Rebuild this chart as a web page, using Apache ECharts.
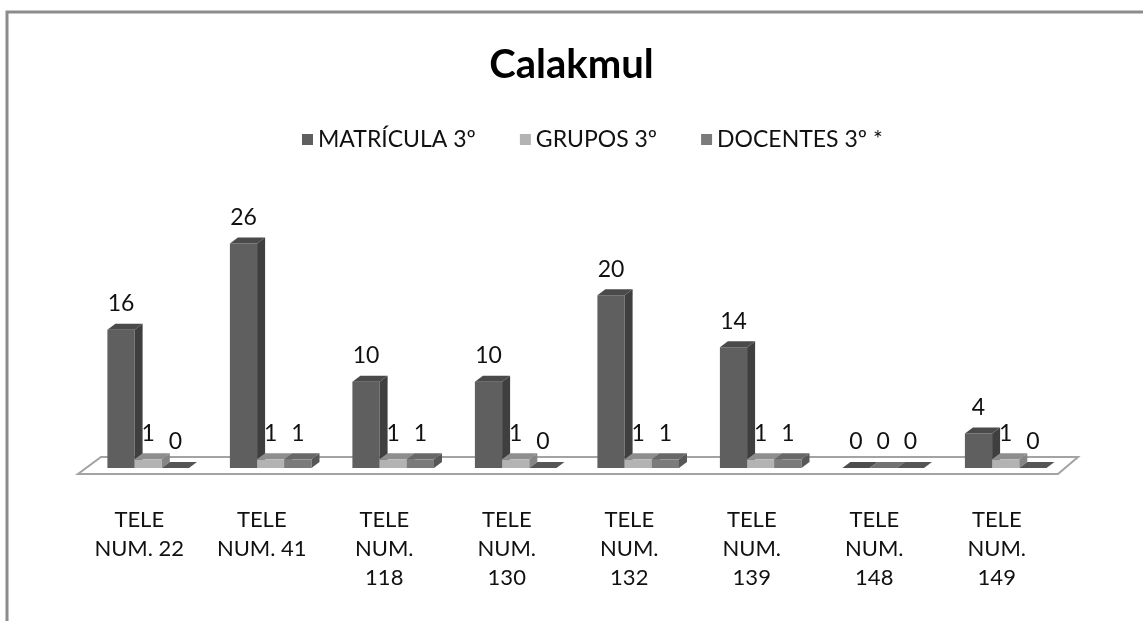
<!DOCTYPE html>
<html>
<head>
<meta charset="utf-8">
<script src="https://cdn.jsdelivr.net/npm/echarts@6/dist/echarts.min.js"></script>
<style>
  html, body { margin: 0; padding: 0; background: #fff; }
  #chart { width: 1143px; height: 621px; }
</style>
</head>
<body>
<div id="chart"></div>
<script>
// Schools (category axis) and the three counts shown for each one
const categories = [
  'TELE\nNUM. 22', 'TELE\nNUM. 41', 'TELE\nNUM.\n118', 'TELE\nNUM.\n130',
  'TELE\nNUM.\n132', 'TELE\nNUM.\n139', 'TELE\nNUM.\n148', 'TELE\nNUM.\n149'
];
const matricula = [16, 26, 10, 10, 20, 14, 0, 4];
const grupos    = [1, 1, 1, 1, 1, 1, 0, 1];
const docentes  = [0, 1, 1, 0, 1, 1, 0, 0];
const seriesNames = ['MATRÍCULA 3º', 'GRUPOS 3º', 'DOCENTES 3º *'];

const FONT = 'Lato, "Open Sans", sans-serif';

// Shades for the faces of each pseudo-3D column
const palettes = [
  { front: '#5f5f5f', side: '#3f3f3f', top: '#4a4a4a', flat: '#4c4c4c' },
  { front: '#b3b3b3', side: '#858585', top: '#8e8e8e', flat: '#727272' },
  { front: '#7b7b7b', side: '#575757', top: '#686868', flat: '#555555' }
];

const DX = 8, DY = 6;   // depth offset of the column sides/tops

function columnRenderer(slot, pal) {
  return function (params, api) {
    const i = api.value(0);
    const v = api.value(1);
    const band = api.size([1, 0])[0];
    const base = api.coord([i, 0]);
    const top = api.coord([i, v]);
    const w = band * 0.222;
    const x0 = base[0] - band * 0.26 + slot * w;
    const x1 = x0 + w;
    const yb = base[1], yt = top[1];
    const children = [];
    if (v > 0) {
      children.push({
        type: 'rect',
        shape: { x: x0, y: yt, width: w, height: yb - yt },
        style: { fill: pal.front }
      });
      children.push({
        type: 'polygon',
        shape: { points: [[x1, yt], [x1 + DX, yt - DY], [x1 + DX, yb - DY], [x1, yb]] },
        style: { fill: pal.side }
      });
    }
    children.push({
      type: 'polygon',
      shape: { points: [[x0, yt], [x0 + DX, yt - DY], [x1 + DX, yt - DY], [x1, yt]] },
      style: { fill: v > 0 ? pal.top : pal.flat }
    });
    children.push({
      type: 'text',
      style: {
        text: String(v),
        x: (x0 + x1) / 2,
        y: yt - 26,
        align: 'center', verticalAlign: 'middle',
        textAlign: 'center', textVerticalAlign: 'middle',
        font: '23px ' + FONT,
        fill: '#111'
      }
    });
    return { type: 'group', children: children };
  };
}

function toPairs(arr) {
  return arr.map(function (v, i) { return [i, v]; });
}

const valueSets = [matricula, grupos, docentes];

const columnSeries = valueSets.map(function (vals, s) {
  return {
    type: 'custom',
    name: seriesNames[s],
    z: 3,
    itemStyle: { color: palettes[s].front },
    data: toPairs(vals),
    encode: { x: 0, y: 1 },
    renderItem: columnRenderer(s, palettes[s])
  };
});

// Floor plate under the columns
const floorSeries = {
  type: 'custom',
  name: 'floor',
  silent: true,
  z: 1,
  data: [[0, 0]],
  encode: { x: 0, y: 1 },
  renderItem: function (params, api) {
    const cs = params.coordSys;
    const yf = api.coord([0, 0])[1] + 6;
    const xl = cs.x, xr = cs.x + cs.width;
    return {
      type: 'polygon',
      shape: { points: [[xl, yf], [xr, yf], [xr + 20, yf - 17], [xl + 23, yf - 17]] },
      style: { fill: '#fff', stroke: '#a3a3a3', lineWidth: 2 }
    };
  }
};

const chart = echarts.init(document.getElementById('chart'));
chart.setOption({
  animation: false,
  backgroundColor: '#fff',
  graphic: [{
    type: 'rect',
    silent: true,
    z: -10,
    shape: { x: 7, y: 12, width: 1400, height: 900 },
    style: { fill: 'none', stroke: '#8c8c8c', lineWidth: 3 }
  }],
  title: {
    text: 'Calakmul',
    left: 'center',
    top: 40,
    textStyle: { fontFamily: FONT, fontWeight: 'bold', fontSize: 40, color: '#000' }
  },
  legend: {
    data: seriesNames,
    left: 297,
    top: 123,
    icon: 'rect',
    itemWidth: 11,
    itemHeight: 11,
    itemGap: 44,
    textStyle: { fontFamily: FONT, fontSize: 23, color: '#111' }
  },
  grid: { left: 78, right: 85, top: 209, bottom: 153 },
  xAxis: {
    type: 'category',
    data: categories,
    axisLine: { show: false },
    axisTick: { show: false },
    axisLabel: {
      interval: 0,
      margin: 37,
      fontFamily: FONT,
      fontSize: 22,
      lineHeight: 29,
      color: '#111'
    }
  },
  yAxis: { type: 'value', min: 0, max: 30, show: false },
  series: [floorSeries].concat(columnSeries)
});
</script>
</body>
</html>
